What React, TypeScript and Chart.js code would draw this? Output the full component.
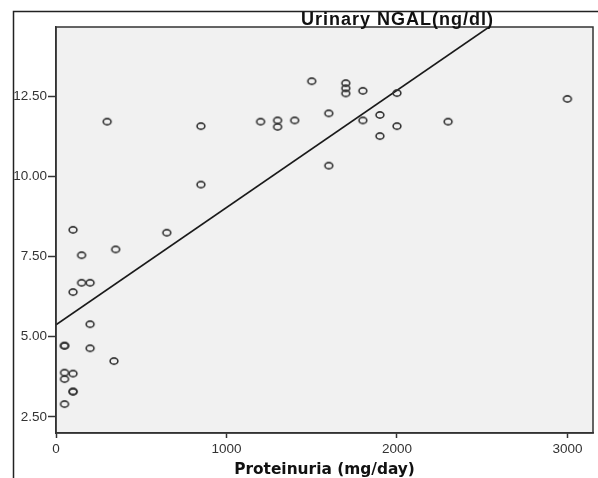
import React, { useEffect, useRef } from "react";
import { Chart, registerables } from "chart.js";

Chart.register(...registerables);

// Data
const proteinuria = [300, 850, 850, 1500, 1700, 1700, 1700, 1800, 2000, 1200, 1300, 1300, 1400, 1600, 1800, 1900, 2000, 1900, 1600, 2300, 3000, 100, 650, 350, 150, 150, 200, 100, 200, 50, 50, 200, 340, 50, 100, 50, 100, 100, 50];
const ngal = [11.7, 11.56, 9.74, 12.96, 12.9, 12.74, 12.58, 12.66, 12.59, 11.7, 11.74, 11.54, 11.74, 11.96, 11.74, 11.91, 11.56, 11.25, 10.33, 11.7, 12.41, 8.33, 8.24, 7.72, 7.54, 6.68, 6.68, 6.39, 5.39, 4.72, 4.72, 4.64, 4.24, 3.88, 3.85, 3.68, 3.29, 3.29, 2.9];

// Fitted regression line end points
const fitX = [0, 2540];
const fitY = [5.37, 14.65];

const xTicks = [0, 1000, 2000, 3000];
const yTicks = [2.5, 5, 7.5, 10, 12.5];

const yTitle = "Urinary NGAL(ng/dl)";
const xTitle = "Proteinuria (mg/day)";

function makeMarker(): HTMLCanvasElement {
  const c = document.createElement("canvas");
  c.width = 12;
  c.height = 10;
  const g = c.getContext("2d")!;
  g.strokeStyle = "#333";
  g.lineWidth = 1.6;
  g.beginPath();
  g.ellipse(6, 5, 3.9, 3.1, 0, 0, Math.PI * 2);
  g.stroke();
  return c;
}

const framePlugin = {
  id: "frame",
  beforeDraw(chart: any) {
    const { ctx, chartArea: a, width, height } = chart;
    ctx.save();
    ctx.fillStyle = "#ffffff";
    ctx.fillRect(0, 0, width, height);
    ctx.strokeStyle = "#222";
    ctx.lineWidth = 1.5;
    ctx.beginPath();
    ctx.moveTo(13.5, height);
    ctx.lineTo(13.5, 11.5);
    ctx.lineTo(width, 11.5);
    ctx.stroke();
    ctx.fillStyle = "#f1f1f1";
    ctx.fillRect(a.left, a.top, a.right - a.left, a.bottom - a.top);
    ctx.restore();
  },
  afterDraw(chart: any) {
    const { ctx, chartArea: a } = chart;
    ctx.save();
    ctx.strokeStyle = "#333";
    ctx.lineWidth = 1.5;
    ctx.strokeRect(a.left, a.top, a.right - a.left, a.bottom - a.top);
    ctx.fillStyle = "#111";
    ctx.font = "bold 18px 'Liberation Sans', Arial, sans-serif";
    (ctx as any).letterSpacing = "1px";
    ctx.textAlign = "left";
    ctx.textBaseline = "alphabetic";
    ctx.fillText(yTitle, 301, 25);
    ctx.restore();
  },
};

export default function App() {
  const ref = useRef<HTMLCanvasElement>(null);
  useEffect(() => {
    if (!ref.current) return;
    const marker = makeMarker();
    const chart = new Chart(ref.current, {
      type: "scatter",
      data: {
        datasets: [
          {
            type: "scatter",
            data: proteinuria.map((x, i) => ({ x, y: ngal[i] })),
            pointStyle: marker as any,
            pointRadius: 4,
            backgroundColor: "transparent",
            borderColor: "#333",
          },
          {
            type: "line",
            data: fitX.map((x, i) => ({ x, y: fitY[i] })),
            borderColor: "#1a1a1a",
            borderWidth: 1.6,
            pointRadius: 0,
            showLine: true,
            fill: false,
          } as any,
        ],
      },
      options: {
        animation: false,
        responsive: false,
        devicePixelRatio: 1,
        layout: { padding: { top: 27, right: 1, left: 0, bottom: 0 } },
        plugins: { legend: { display: false }, tooltip: { enabled: false } },
        scales: {
          x: {
            type: "linear",
            min: 0,
            max: 3150,
            afterFit: (s: any) => {
              s.height = 45;
            },
            afterBuildTicks: (s: any) => {
              s.ticks = xTicks.map((v) => ({ value: v }));
            },
            ticks: {
              includeBounds: false,
              padding: 3,
              color: "#333",
              font: { family: "'Liberation Sans', Arial, sans-serif", size: 13.5 },
              callback: (v: any) => String(v),
              maxRotation: 0,
            },
            grid: { drawOnChartArea: false, drawTicks: true, tickLength: 5, tickColor: "#333", tickWidth: 1.5 },
            border: { display: true, color: "#333", width: 1.5 },
            title: {
              display: true,
              text: xTitle,
              color: "#111",
              padding: 0,
              font: { family: "'DejaVu Sans', Verdana, sans-serif", size: 15.4, weight: "bold", lineHeight: 1 },
            },
          },
          y: {
            type: "linear",
            min: 2.0,
            max: 14.65,
            afterFit: (s: any) => {
              s.width = 56;
            },
            afterBuildTicks: (s: any) => {
              s.ticks = yTicks.map((v) => ({ value: v }));
            },
            ticks: {
              includeBounds: false,
              padding: 1,
              color: "#333",
              font: { family: "'Liberation Sans', Arial, sans-serif", size: 13.5 },
              callback: (v: any) => Number(v).toFixed(2),
            },
            grid: { drawOnChartArea: false, drawTicks: true, tickLength: 8, tickColor: "#333", tickWidth: 1.5 },
            border: { display: true, color: "#333", width: 1.5 },
          },
        },
      },
      plugins: [framePlugin],
    });
    return () => chart.destroy();
  }, []);
  return (
    <div style={{ position: "absolute", left: 0, top: 0, width: 598, height: 478 }}>
      <canvas ref={ref} width={598} height={478} style={{ display: "block" }} />
    </div>
  );
}
